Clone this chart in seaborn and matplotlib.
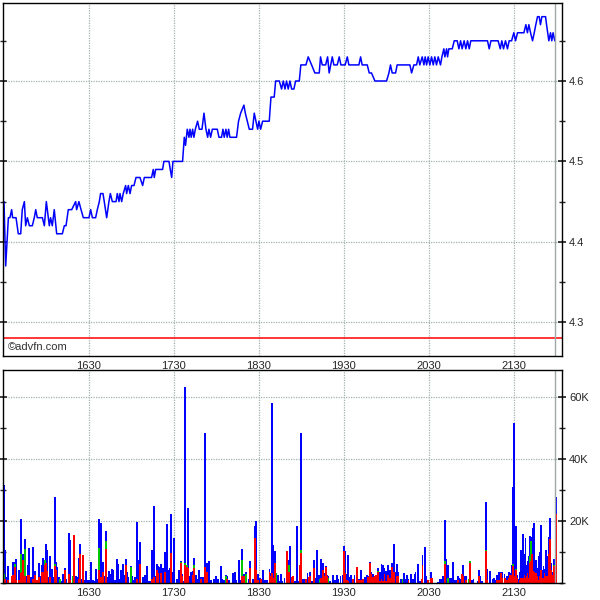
import numpy as np
import pandas as pd
import seaborn as sns
import matplotlib.pyplot as plt
from matplotlib.ticker import MultipleLocator, FixedLocator

# Intraday trade price, minutes after 15:30
price_min = [
    0.0, 1.2, 3.1, 4.2, 5.4, 6.1, 8.5, 10.1, 11.8, 12.9, 14.4, 15.3, 16.5, 17.9, 20.0,
    21.4, 22.4, 23.5, 27.1, 28.5, 29.9, 32.0, 32.9, 34.1, 35.5, 37.2, 41.2, 42.6, 43.8,
    45.4, 47.8, 50.6, 51.3, 52.9, 54.4, 56.0, 60.0, 61.2, 62.4, 64.7, 65.9, 67.3, 68.2,
    69.9, 70.8, 72.5, 74.1, 75.1, 76.5, 79.1, 80.0, 81.2, 81.9, 83.1, 84.2, 85.9, 86.6,
    87.8, 89.0, 90.1, 91.8, 93.2, 96.0, 97.9, 99.1,
    104.2, 105.4, 106.1, 107.1, 112.0, 112.9, 116.5, 117.4, 118.4, 119.3, 126.1, 127.3,
    128.2, 129.4, 130.6, 131.3, 132.2, 133.2, 134.1, 135.1, 136.7, 137.9, 139.8, 141.2,
    142.6, 143.8, 144.7, 145.9, 147.1, 150.6, 151.8, 153.6, 154.6, 155.5, 156.7, 157.6,
    158.6, 159.5, 164.2, 165.6, 167.1, 169.4, 170.4, 171.8, 173.2, 175.5, 176.7, 177.9,
    179.1, 180.0, 181.2, 182.6, 187.3, 188.5, 190.8, 191.8, 194.4, 196.0, 197.2, 198.4,
    199.5, 200.7, 201.9, 203.1, 204.7, 205.9, 208.5, 209.6,
    213.2, 214.8, 217.2, 219.5, 222.6, 223.5, 224.7, 227.1, 228.5, 229.6, 231.8, 232.9,
    235.3, 236.7, 237.9, 240.9, 242.4, 243.5, 250.6, 251.8, 252.9, 256.5, 257.9, 259.5,
    261.9, 270.1, 271.8, 272.9, 274.1, 276.5, 277.6, 286.6, 287.8, 289.4, 291.3, 292.5,
    293.6, 295.3, 296.5,
    297.4, 298.4, 299.5, 300.7, 301.9, 303.1, 304.2, 305.4, 306.6, 308.2, 309.2, 310.6,
    311.3, 312.5, 313.2, 314.1, 316.5, 317.9, 320.0, 321.2, 322.4, 323.5, 324.9, 326.1,
    327.3, 328.5, 329.6, 341.4, 342.6, 343.8, 348.9, 350.4, 351.5, 352.7, 354.1, 355.5,
    356.7, 358.4, 360.0, 361.2, 362.6, 367.1, 368.5, 369.6, 370.6, 371.8, 373.2, 374.4,
    375.5, 376.7, 377.9, 378.8, 379.8, 382.4, 383.1, 384.7, 385.9, 386.8, 387.7, 388.9,
]
price_val = [
    4.45, 4.37, 4.43, 4.43, 4.44, 4.43, 4.43, 4.41, 4.41, 4.44, 4.45, 4.42, 4.43, 4.42, 4.42,
    4.43, 4.44, 4.43, 4.43, 4.42, 4.45, 4.42, 4.43, 4.42, 4.44, 4.41, 4.41, 4.42, 4.42,
    4.44, 4.44, 4.45, 4.44, 4.45, 4.44, 4.43, 4.43, 4.44, 4.43, 4.43, 4.44, 4.45, 4.46,
    4.46, 4.45, 4.43, 4.45, 4.46, 4.45, 4.45, 4.46, 4.45, 4.46, 4.45, 4.46, 4.47, 4.46,
    4.47, 4.46, 4.47, 4.47, 4.48, 4.48, 4.47, 4.48,
    4.48, 4.49, 4.48, 4.49, 4.49, 4.50, 4.50, 4.49, 4.48, 4.50, 4.50, 4.53,
    4.52, 4.54, 4.53, 4.54, 4.53, 4.54, 4.53, 4.54, 4.55, 4.54, 4.54, 4.56,
    4.54, 4.53, 4.54, 4.53, 4.54, 4.54, 4.53, 4.53, 4.54, 4.53, 4.54, 4.53,
    4.54, 4.53, 4.53, 4.55, 4.56, 4.57, 4.56, 4.55, 4.54, 4.54, 4.56, 4.55,
    4.54, 4.55, 4.54, 4.55, 4.55, 4.58, 4.58, 4.60, 4.60, 4.59, 4.60, 4.59,
    4.60, 4.59, 4.60, 4.59, 4.59, 4.60, 4.60, 4.62,
    4.62, 4.63, 4.62, 4.61, 4.61, 4.63, 4.62, 4.62, 4.63, 4.61, 4.63, 4.62,
    4.62, 4.63, 4.62, 4.62, 4.63, 4.62, 4.62, 4.63, 4.62, 4.62, 4.61, 4.61,
    4.60, 4.60, 4.61, 4.62, 4.61, 4.61, 4.62, 4.62, 4.61, 4.62, 4.62, 4.63,
    4.62, 4.63, 4.62,
    4.63, 4.62, 4.63, 4.62, 4.63, 4.62, 4.63, 4.62, 4.63, 4.62, 4.63, 4.64,
    4.63, 4.64, 4.63, 4.64, 4.64, 4.65, 4.65, 4.64, 4.65, 4.64, 4.65, 4.64,
    4.65, 4.64, 4.65, 4.65, 4.64, 4.65, 4.65, 4.64, 4.65, 4.64, 4.65, 4.64,
    4.65, 4.65, 4.66, 4.65, 4.66, 4.66, 4.67, 4.66, 4.67, 4.66, 4.65, 4.66,
    4.67, 4.68, 4.68, 4.67, 4.68, 4.68, 4.67, 4.65, 4.66, 4.65, 4.66, 4.65,
]
prev_close = 4.28

# Volume (thousands of shares): total, sell part (red), and mid part (green)
vol_min = [
    0.0, 0.7, 1.6, 3.1, 5.4, 6.1, 7.8, 8.5, 10.6, 12.0,
    12.9, 13.6, 15.1, 16.0, 17.2, 17.9, 18.8, 20.0, 20.7, 22.1,
    23.5, 24.9, 25.9, 27.1, 27.8, 28.9, 29.9, 30.6, 32.0, 32.7,
    34.1, 34.8, 36.2, 36.9, 37.6, 39.1, 39.8, 40.9, 41.9, 43.3,
    44.0, 46.1, 46.8, 48.5, 49.4, 51.1, 51.8, 53.2, 53.9, 54.8,
    55.8, 56.7, 58.1, 58.8, 60.2, 61.6, 63.1, 63.8, 65.2, 65.9,
    67.1, 67.8, 68.7, 70.1, 71.3, 72.2, 73.2, 74.1, 74.8, 76.0,
    77.2, 78.1, 79.3, 80.0, 80.7, 81.9, 82.8, 84.2, 84.9, 86.1,
    87.1, 87.8, 89.6, 90.6, 91.3, 92.5, 93.9, 94.6, 96.2, 97.9,
    99.8, 101.2, 102.4, 103.3, 104.7, 106.1, 107.1, 108.2, 108.9, 110.1,
    111.1, 112.0, 112.9, 113.9, 115.1, 116.2, 116.9, 117.9, 118.6, 120.0,
    122.4, 123.8, 124.9, 125.9, 127.3, 128.0, 129.2, 130.1, 131.1, 132.2,
    133.2, 134.4, 135.3, 136.2, 137.4, 138.4, 139.3, 140.2, 141.2, 142.1,
    143.1, 144.7, 146.1, 148.5, 149.6, 151.3, 153.2, 154.1, 155.1, 156.7,
    157.6, 158.8, 161.9, 163.3, 164.2, 165.9, 166.6, 168.0, 169.6, 170.8,
    172.9, 173.9, 175.5, 176.5, 177.4, 178.1, 179.5, 180.7, 181.6, 183.1,
    184.0, 185.2, 186.1, 187.5, 188.2, 189.4, 190.1, 191.3, 192.0, 193.4,
    194.6,
    195.3, 196.7, 198.1, 199.5, 200.0, 201.4, 202.1, 203.5, 204.2, 205.6,
    206.8, 208.0, 209.2, 209.9, 211.3, 212.7, 213.4, 214.3, 215.5, 216.2,
    217.6, 219.0, 220.4, 221.2, 222.6, 223.3, 224.0, 225.4, 226.3, 227.5,
    228.2, 228.9, 230.3, 232.2, 233.6, 235.0, 236.2, 237.6, 239.0, 240.2,
    240.9, 242.1, 243.0, 244.4, 245.2, 246.3, 247.5, 249.4, 250.8, 252.0,
    253.4, 254.8, 256.2, 257.2, 258.6, 259.5, 260.7, 261.9, 262.8, 264.2,
    265.2, 266.6, 267.5, 268.7, 269.6, 271.0, 272.4, 273.9, 275.3, 276.2,
    277.6, 278.3, 280.4, 281.4, 282.3, 283.3, 284.4, 285.6, 287.3, 288.7,
    290.1, 290.6, 292.5, 293.6,
    294.8, 295.5, 297.1, 297.8, 299.5, 301.6, 302.3, 306.5, 307.7, 308.4,
    309.8, 311.5, 312.2, 313.6, 314.8, 315.7, 317.1, 318.1, 319.0, 320.7,
    321.4, 322.1, 323.5, 324.2, 325.4, 326.3, 328.2, 329.1, 329.8, 330.8,
    331.5, 334.8, 335.5, 336.2, 337.6, 340.4, 341.1, 342.8, 343.5, 345.1,
    345.8, 347.0, 348.0, 348.9, 349.8, 351.2, 351.9, 353.4, 353.8, 355.3,
    356.4, 357.1, 358.5, 359.5, 360.2, 361.6, 362.5, 363.2, 364.2, 365.1,
    366.3, 367.5, 368.2, 368.9, 369.6, 370.5, 371.2, 371.9, 372.7, 373.6,
    374.5, 375.5, 376.4, 377.4, 378.1, 379.0, 379.9, 380.9, 381.6, 382.5,
    383.2, 384.2, 384.9, 385.4, 386.3, 387.3, 388.2, 388.9, 389.8,
]
vol_total = [
    31.6, 10.7, 1.8, 5.5, 2.2, 6.8, 6.8, 7.6, 4.1, 20.8,
    7.1, 9.4, 14.3, 2.2, 5.8, 11.3, 1.8, 1.4, 11.7, 3.8,
    0.9, 6.3, 2.2, 5.8, 8.1, 7.4, 12.6, 10.7, 2.0, 8.7,
    4.5, 2.0, 27.7, 6.8, 5.2, 1.8, 1.4, 0.5, 2.8, 4.7,
    1.4, 16.1, 14.0, 2.4, 15.6, 2.2, 2.0, 8.1, 12.6, 1.4,
    9.0, 0.9, 3.8, 0.9, 0.9, 6.8, 1.1, 0.7, 4.5, 1.4,
    20.8, 12.6, 19.2, 6.8, 2.2, 16.9, 2.0, 3.8, 2.8, 4.5,
    4.1, 1.1, 1.1, 7.7, 6.1, 1.4, 4.1, 6.1, 2.5, 7.7,
    3.5, 1.8, 5.5, 2.2, 1.1, 1.8, 19.6, 7.4, 13.1, 1.8,
    2.6, 5.5, 0.7, 0.7, 10.7, 24.8, 2.3, 6.2, 5.5, 5.3,
    6.2, 4.8, 1.2, 10.1, 18.9, 4.2, 4.8, 22.1, 3.4, 14.6,
    1.2, 4.2, 7.2, 2.9, 0.7, 63.1, 5.9, 24.1, 2.3, 3.7,
    4.0, 8.0, 2.6, 1.2, 4.2, 1.8, 1.8, 1.8, 1.8, 48.5,
    6.4, 7.2, 1.0, 1.3, 2.1, 1.3, 5.5, 1.3, 0.9, 2.6,
    2.1, 0.9, 3.1, 3.6, 1.0, 7.5, 1.0, 11.1, 2.8, 3.4,
    1.3, 7.2, 1.3, 1.3, 18.3, 20.1, 2.9, 1.5, 1.4, 4.2,
    1.0, 1.0, 1.0, 4.4, 3.1, 57.9, 12.4, 10.4, 3.1, 2.6,
    0.8,
    2.9, 0.8, 1.5, 1.2, 10.2, 7.5, 11.8, 1.8, 2.3, 0.8,
    18.4, 0.8, 5.7, 48.3, 1.2, 1.2, 1.2, 3.2, 1.8, 3.7,
    0.8, 7.5, 1.5, 10.8, 2.6, 2.6, 7.8, 6.4, 3.2, 5.5,
    2.6, 2.1, 0.8, 2.6, 1.0, 2.6, 1.2, 2.3, 2.6, 11.8,
    10.4, 2.9, 9.1, 1.8, 2.6, 1.2, 2.6, 5.3, 1.2, 4.2,
    1.2, 1.8, 2.6, 2.1, 6.8, 3.7, 2.9, 2.3, 2.6, 4.8,
    3.7, 6.2, 5.8, 4.8, 4.0, 5.8, 4.2, 6.4, 12.7, 3.4,
    6.2, 3.4, 1.2, 1.2, 3.2, 1.2, 2.6, 1.2, 2.9, 1.2,
    2.9, 3.7, 6.2, 0.8,
    1.2, 8.9, 11.6, 2.4, 1.0, 3.4, 1.5, 0.4, 1.2, 1.2,
    2.4, 20.3, 7.8, 5.7, 1.5, 1.7, 6.8, 1.0, 1.0, 2.1,
    1.7, 1.2, 2.8, 5.9, 2.1, 2.1, 1.2, 7.2, 1.0, 1.0,
    1.3, 0.8, 4.2, 2.3, 0.7, 26.0, 4.5, 3.9, 3.9, 1.3,
    1.7, 1.0, 2.6, 1.7, 3.5, 3.5, 3.5, 2.8, 1.7, 2.4,
    3.5, 3.2, 5.9, 31.1, 51.7, 18.4, 2.6, 1.2, 3.7, 10.8,
    15.9, 9.3, 14.6, 5.9, 7.2, 8.6, 15.1, 14.9, 11.0, 17.8,
    19.2, 7.5, 4.8, 8.8, 10.0, 18.6, 4.2, 5.5, 4.5, 10.8,
    8.8, 2.1, 14.9, 20.9, 6.4, 3.7, 7.7, 4.6, 27.6,
]
vol_red = [
    1.4, 1.4, 0, 0.9, 2.2, 2.5, 5.2, 0.9, 1.1, 3.3,
    3.6, 7.4, 2.2, 0, 2.5, 2.5, 0, 0, 1.4, 2.5,
    0.9, 1.8, 0, 3.6, 3.6, 5.8, 6.3, 3.9, 0, 1.8,
    0, 0, 5.4, 4.1, 0, 0, 0, 0, 0, 4.1,
    0, 2.8, 0.9, 0, 15.6, 0, 0, 1.4, 9.4, 0,
    9.0, 0, 0, 0, 0, 0, 0, 0, 0, 0,
    4.1, 1.4, 2.0, 3.6, 0, 11.0, 0, 0, 0, 0,
    0, 0, 0, 0, 0, 0, 0, 0, 0, 5.8,
    0, 0, 0, 0, 0, 0, 1.4, 0, 6.1, 0,
    0, 0, 0, 0, 1.2, 2.0, 0, 4.2, 3.1, 0,
    3.1, 0, 0, 3.7, 0, 0, 0, 9.7, 0, 0,
    0, 0, 6.4, 2.1, 0, 5.9, 5.0, 4.8, 0, 0,
    2.6, 4.8, 0, 0, 0, 0, 1.3, 0, 0, 5.3,
    3.7, 0, 0, 0, 0, 0, 0, 0, 0, 0,
    1.3, 0, 0, 0, 0, 0, 0, 2.1, 2.1, 0,
    0, 4.8, 0, 0, 14.5, 4.2, 1.0, 0, 1.4, 0,
    0, 0, 0, 3.4, 2.1, 3.1, 1.5, 6.6, 0, 0,
    0,
    0, 0, 0, 0, 10.2, 3.7, 0, 1.8, 2.3, 0,
    0, 0, 5.7, 9.7, 0, 0, 1.2, 0, 1.8, 2.1,
    0, 4.8, 0, 0, 0, 0, 1.5, 4.2, 2.1, 5.1,
    2.3, 0, 0, 0, 0, 0, 0, 0, 0, 10.4,
    3.2, 1.0, 0.8, 0, 0, 1.2, 0, 5.3, 1.0, 1.0,
    1.2, 0, 0, 1.8, 6.4, 2.9, 1.8, 2.1, 2.6, 3.7,
    0.7, 1.2, 0.8, 2.8, 0.8, 2.5, 1.5, 5.1, 3.4, 0,
    2.3, 2.1, 0, 0, 0, 0, 0, 1.0, 0, 0,
    0, 0, 0, 0,
    1.2, 5.9, 0, 0, 1.0, 1.5, 1.5, 0, 0, 0,
    0, 6.2, 0, 0, 0, 0, 0, 0, 0, 1.0,
    0, 0, 2.8, 2.1, 0, 1.0, 0, 6.6, 0, 0,
    0, 0, 2.3, 0, 0, 10.2, 1.0, 0, 0, 0,
    0, 0, 1.0, 0, 1.0, 3.2, 1.5, 1.2, 1.5, 1.0,
    1.5, 2.6, 2.6, 5.5, 2.1, 4.2, 1.5, 0, 1.0, 1.5,
    1.5, 2.5, 1.5, 2.1, 3.1, 1.5, 6.4, 7.0, 9.3, 3.9,
    3.4, 3.2, 2.1, 1.0, 2.1, 4.2, 1.5, 1.5, 3.1, 2.1,
    2.4, 1.5, 9.5, 14.2, 4.2, 2.6, 5.4, 0, 22.2,
]
vol_green = [
    1.4, 0, 0, 0, 0, 0, 0.8, 0, 0, 6.0,
    0, 0, 8.7, 0, 0, 0, 0, 0, 0, 0,
    0, 0, 0, 0, 0, 1.6, 0, 0, 0, 0,
    0, 0, 0.6, 0, 0, 0, 1.4, 0, 0, 0,
    0, 0, 0, 2.4, 0, 0, 0, 0, 0, 0,
    0, 0, 0, 0, 0, 0, 0, 0, 0, 0,
    7.2, 0, 0, 0, 0, 2.5, 0, 0, 0, 0,
    0, 0, 0, 0, 0, 0, 0, 0, 0, 0,
    0, 0, 5.0, 0, 0, 0, 0, 0, 0, 0,
    0, 0, 0, 0, 0, 0, 0, 0, 0, 0,
    0, 0, 0, 0, 0, 0, 0, 0, 0, 0,
    0, 0, 0.5, 0, 0, 0.7, 0.9, 0, 0, 0,
    0, 1.1, 0, 0, 0, 0, 0, 0, 0, 0,
    0, 0, 0, 0, 0, 0, 0, 0, 0, 2.1,
    0, 0, 0, 0, 0, 0, 0, 5.4, 0, 2.9,
    0, 0, 0, 0, 0, 0, 0, 0, 0, 0,
    0, 0, 0, 0, 0, 0, 0, 0, 3.1, 0,
    0,
    0, 0, 0, 0, 0, 2.2, 0, 0, 0, 0,
    0, 0, 0, 1.1, 0, 0, 0, 0, 0, 0,
    0, 0, 0, 0, 0, 1.2, 0, 0, 0, 0,
    0, 1.5, 0, 0, 0, 0, 0, 0, 0, 0,
    0, 0, 0, 0, 0, 0, 0, 0, 0, 0,
    0, 0, 0, 0, 0, 0, 0, 0, 0, 0.3,
    0, 0, 0, 0, 0, 0, 0, 0.2, 0, 0,
    0, 0, 0, 1.2, 0, 0, 0, 0, 0, 0,
    0, 0, 0, 0,
    0, 0, 0, 0, 0, 0, 0, 0, 0, 0,
    0, 0.8, 0, 1.5, 0, 0, 0, 0, 0, 0,
    0, 0, 0, 0, 0, 0, 1.2, 0.4, 0, 0,
    0, 0, 0, 0, 0, 0.6, 0, 0, 0, 0,
    0, 0, 0, 0, 0, 0, 0, 0, 0, 0,
    0, 0, 0, 0.7, 0, 0.4, 0, 0, 0, 0,
    0, 0, 0, 0, 0, 0, 2.2, 6.5, 0, 0,
    0, 0, 0, 0, 0, 0, 0, 0, 0, 0,
    0, 0, 0, 0, 0, 0, 0.5, 0, 0,
]

hour_ticks = [60, 120, 180, 240, 300, 360]
hour_labels = ["1630", "1730", "1830", "1930", "2030", "2130"]
price_ticks = [4.3, 4.4, 4.5, 4.6]
vol_ticks = [20, 40, 60]

price = pd.DataFrame({"minute": price_min, "price": price_val})
vol = pd.DataFrame({"minute": vol_min, "total": vol_total, "red": vol_red, "green": vol_green})
vol["mid"] = vol["red"] + vol["green"]

sns.set_theme(style="white")
plt.rcParams["font.family"] = ["Liberation Sans", "DejaVu Sans"]

fig = plt.figure(figsize=(6, 6), dpi=100)
ax1 = fig.add_axes([3 / 600, 244 / 600, 559 / 600, 353 / 600])
ax2 = fig.add_axes([3 / 600, 17 / 600, 559 / 600, 213 / 600])

grid_kw = dict(color="#a3b1b1", linestyle=(0, (1, 1)), linewidth=0.9)
x_lim = (-0.7, 394)

# price panel
sns.lineplot(data=price, x="minute", y="price", ax=ax1, color="#0000ff",
             linewidth=1.1, estimator=None)
ax1.axhline(prev_close, color="#ff0000", linewidth=1.1)
ax1.axvline(price_min[-1], color="#a0a8a8", linewidth=1)
ax1.set_ylim(4.258, 4.697)
ax1.yaxis.set_major_locator(FixedLocator(price_ticks))
ax1.yaxis.set_minor_locator(MultipleLocator(0.05))
ax1.text(0.008, 0.012, "\u00a9advfn.com", transform=ax1.transAxes,
         fontsize=8, color="#333333", va="bottom", ha="left")

# volume panel: bars are about 1.3 minutes wide on the native time scale
bar_w = 1.3 / np.min(np.diff(np.unique(vol["minute"])))
sns.barplot(data=vol, x="minute", y="total", ax=ax2, native_scale=True,
            color="#0000ff", saturation=1, errorbar=None, width=bar_w, linewidth=0)
sns.barplot(data=vol, x="minute", y="mid", ax=ax2, native_scale=True,
            color="#00c800", saturation=1, errorbar=None, width=bar_w, linewidth=0)
sns.barplot(data=vol, x="minute", y="red", ax=ax2, native_scale=True,
            color="#ff0000", saturation=1, errorbar=None, width=bar_w, linewidth=0)
ax2.axvline(price_min[-1], color="#a0a8a8", linewidth=1)
ax2.set_ylim(0, 68.7)
ax2.yaxis.set_major_locator(FixedLocator(vol_ticks))
ax2.yaxis.set_minor_locator(MultipleLocator(10))
ax2.set_yticklabels([f"{v}K" for v in vol_ticks])

for ax in (ax1, ax2):
    ax.set_xlim(*x_lim)
    ax.set_xticks(hour_ticks)
    ax.set_xticklabels(hour_labels)
    ax.set_xlabel("")
    ax.set_ylabel("")
    ax.grid(True, which="major", **grid_kw)
    ax.set_axisbelow(True)
    ax.yaxis.tick_right()
    ax.tick_params(axis="y", which="both", left=True, right=True,
                   labelleft=False, labelright=True, direction="inout")
    ax.tick_params(axis="y", which="major", length=6, pad=2, labelsize=8)
    ax.tick_params(axis="y", which="minor", length=5)
    ax.tick_params(axis="x", which="major", direction="inout", length=5,
                   pad=1, labelsize=8)
    for s in ax.spines.values():
        s.set_color("black")
        s.set_linewidth(1)
        s.set_visible(True)

fig.savefig("out.png", dpi=100, facecolor="white")
